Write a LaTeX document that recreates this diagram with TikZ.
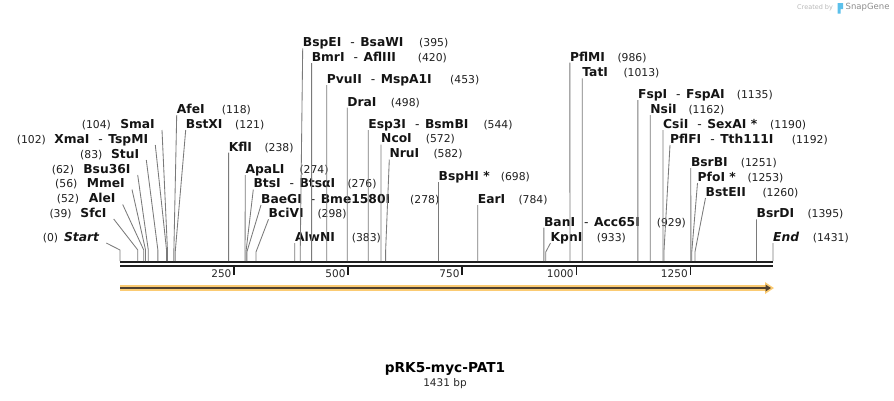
\documentclass[tikz,border=0pt]{standalone}
\usepackage{fontspec}
\setmainfont{DejaVu Sans}
\definecolor{bandorange}{HTML}{FBCB73}
\definecolor{banddark}{HTML}{4F4030}
\definecolor{sglogo}{HTML}{5BC0EB}
\newcommand\hy{\hspace{9pt}{\mdseries-}\hspace{5.5pt}}
\newcommand\rlab[5]{%
  \coordinate (s#1) at ({120+#1*0.45632},261);
  \node[enzlab,anchor=base west] (e#1) at (#2,#3+4.3) {#4};
  \node[numlab,anchor=base west] (p#1) at (#5,#3+4.3) {(#1)};
  \draw[cutline] ([yshift=-1.7pt]e#1.base west) -- (s#1 |- 0,252) -- (s#1);}
\newcommand\llab[5]{%
  \coordinate (s#1) at ({120+#1*0.45632},261);
  \node[enzlab,anchor=base east] (e#1) at (#2,#3+4.3) {#4};
  \node[numlab,anchor=base west] (p#1) at (#5,#3+4.3) {(#1)};
  \draw[cutline] ([xshift=7pt,yshift=-1.7pt]e#1.base east) -- (s#1 |- 0,250) -- (s#1);}
\begin{document}
\begin{tikzpicture}[x=1pt,y=-1pt,
  enzlab/.style={font=\bfseries\fontsize{12.3}{14}\selectfont, inner sep=0pt, text=black!92},
  numlab/.style={font=\fontsize{10.8}{13}\selectfont, inner sep=0pt, text=black!88},
  cutline/.style={draw=black!52, line width=0.85pt},
  seqline/.style={draw=black!88, line width=2.5pt},
  tickmark/.style={draw=black!90, line width=1.5pt},
  ticklab/.style={font=\fontsize{10.5}{12}\selectfont, inner sep=0pt, text=black!85}]
\useasboundingbox (0,0) rectangle (894,400);
% sequence
\coordinate (a0) at (120,262); \coordinate (a1) at (773,262);
\coordinate (b0) at (120,266); \coordinate (b1) at (773,266);
\draw[seqline] (a0) -- (a1);
\draw[seqline] (b0) -- (b1);
% ticks
\foreach \t in {250,500,750,1000,1250} {
  \coordinate (t\t) at ({120+\t*0.45632},267);
  \draw[tickmark] (t\t) -- ++(0,7.5);
  \node[ticklab,anchor=east] (tl\t) at ([xshift=-2.5pt,yshift=-6.5pt]t\t) {\t};
}
% feature arrow
\coordinate (f0) at (120,288); \coordinate (f1) at (766,288);
\draw[draw=bandorange, line width=6pt] (f0) -- (f1);
\fill[bandorange] (765,282) -- (774,288) -- (765,294) -- cycle;
\draw[draw=banddark, line width=2pt] (f0) -- (767,288);
\fill[banddark] (765.5,284.5) -- (771,288) -- (765.5,291.5) -- cycle;
% left labels
\llab{0}{99.3}{237}{\itshape Start}{42.7}
\llab{39}{106.7}{213}{SfcI}{49.3}
\llab{52}{115.7}{198.5}{AleI}{56.7}
\llab{56}{125}{183.5}{MmeI}{55}
\llab{62}{130.7}{169}{Bsu36I}{51.7}
\llab{83}{139.3}{154}{StuI}{80}
\llab{102}{148.3}{139}{XmaI\hy TspMI}{16.7}
\llab{104}{155}{124}{SmaI}{81.7}
% right labels
\rlab{118}{176.7}{109}{AfeI}{221.7}
\rlab{121}{185.7}{124}{BstXI}{235}
\rlab{238}{228.6}{146.7}{KflI}{264.3}
\rlab{274}{245.3}{169}{ApaLI}{299.3}
\rlab{276}{253.3}{183.5}{BtsI\hy BtsαI}{347.3}
\rlab{278}{261}{199}{BaeGI\hy Bme1580I}{410}
\rlab{298}{268.5}{213.3}{BciVI}{317.3}
\rlab{383}{294.8}{237}{AlwNI}{351.7}
\rlab{395}{302.7}{42.3}{BspEI\hy BsaWI}{419}
\rlab{420}{311.6}{57}{BmrI\hy AflIII}{417.7}
\rlab{453}{326.7}{79}{PvuII\hy MspA1I}{450}
\rlab{498}{347.2}{101.7}{DraI}{390.7}
\rlab{544}{368.2}{124}{Esp3I\hy BsmBI}{483.3}
\rlab{572}{381}{138.5}{NcoI}{425.7}
\rlab{582}{389.3}{153.5}{NruI}{433.3}
\rlab{698}{438.5}{176}{BspHI *}{500.7}
\rlab{784}{477.7}{199}{EarI}{518.3}
\rlab{929}{543.9}{221.7}{BanI\hy Acc65I}{656.7}
\rlab{933}{550.5}{237}{KpnI}{596.7}
\rlab{986}{569.9}{56.7}{PflMI}{617.3}
\rlab{1013}{582.2}{72.3}{TatI}{623.3}
\rlab{1135}{637.9}{94}{FspI\hy FspAI}{736.7}
\rlab{1162}{650.2}{109}{NsiI}{688.3}
\rlab{1190}{663}{124}{CsiI\hy SexAI *}{770}
\rlab{1192}{670}{139}{PflFI\hy Tth111I}{791.7}
\rlab{1251}{690.8}{162}{BsrBI}{740.7}
\rlab{1253}{697.5}{177}{PfoI *}{747.3}
\rlab{1260}{705.5}{192}{BstEII}{762.3}
\rlab{1395}{756.5}{213.3}{BsrDI}{807.3}
\rlab{1431}{773}{237}{\itshape End}{812.7}
% title
\node[font=\bfseries\fontsize{13.7}{16}\selectfont, inner sep=0pt] (title) at (445,369) {pRK5-myc-PAT1};
\node[font=\fontsize{10.5}{12}\selectfont, inner sep=0pt, text=black!85] (len) at (445,384) {1431 bp};
% credit
\node[font=\fontsize{6.5}{8}\selectfont, inner sep=0pt, text=black!28, anchor=west] (cr) at (797,7.5) {Created by};
\fill[sglogo] (837.5,3) -- (843,3) -- (843,9) -- (840.5,9) -- (840.5,13.5) -- (837.5,13.5) -- cycle;
\node[font=\fontsize{8.5}{10}\selectfont, inner sep=0pt, text=black!45, anchor=west] (sg) at (845.5,7.5) {SnapGene};
\end{tikzpicture}
\end{document}
